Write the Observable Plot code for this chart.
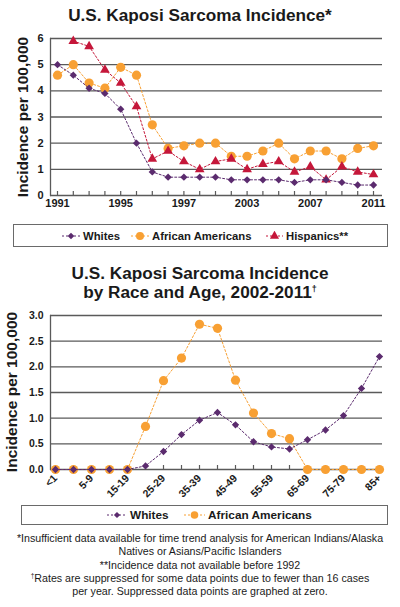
<!DOCTYPE html>
<html>
<head>
<meta charset="utf-8">
<script src="https://cdn.jsdelivr.net/npm/d3@7"></script>
<script src="https://cdn.jsdelivr.net/npm/@observablehq/plot@0.6"></script>
<style>
  html, body { margin: 0; padding: 0; background: #fff; }
  body { width: 400px; height: 607px; position: relative; overflow: hidden; font-family: "Liberation Sans", Arial, Helvetica, sans-serif; color: #1a1a1a; }
  .abs { position: absolute; }
  .title { left: 0; width: 400px; text-align: center; font-weight: bold; font-size: 17.2px; line-height: 19px; }
  .ylab { font-weight: bold; font-size: 15.5px; white-space: nowrap; transform: translate(-50%, -50%) rotate(-90deg); }
  .legend { border: 1.5px solid #6a6a6a; box-sizing: border-box; }
  .item { position: absolute; top: 50%; transform: translateY(-50%); display: flex; align-items: center; font-weight: bold; white-space: nowrap; }
  .item svg { margin-right: 3px; }
  .foot { left: 0; width: 400px; text-align: center; font-size: 11.6px; line-height: 13.3px; transform: scaleX(0.92); transform-origin: 200px 0; }
  svg text { font-family: "Liberation Sans", Arial, Helvetica, sans-serif; }
</style>
</head>
<body>
<div class="abs title" style="top:6px">U.S. Kaposi Sarcoma Incidence*</div>
<div id="chart1" class="abs" style="left:0; top:28px"></div>
<div class="abs ylab" style="left:23px; top:117px">Incidence per 100,000</div>
<div class="abs legend" style="left:13px; top:224px; width:375px; height:23px; font-size:11.3px">
  <div class="item" style="left:48px"><svg id="lg1" width="18" height="10"></svg>Whites</div>
  <div class="item" style="left:117px"><svg id="lg2" width="18" height="10"></svg>African Americans</div>
  <div class="item" style="left:252px"><svg id="lg3" width="17" height="10"></svg>Hispanics**</div>
</div>

<div class="abs title" style="top:264px">U.S. Kaposi Sarcoma Incidence<br>by Race and Age, 2002-2011<sup style="font-size:9px; vertical-align: 6px; line-height:0">†</sup></div>
<div id="chart2" class="abs" style="left:0; top:305px"></div>
<div class="abs ylab" style="left:12px; top:392px">Incidence per 100,000</div>
<div class="abs legend" style="left:21px; top:505px; width:367px; height:20px; font-size:11.8px">
  <div class="item" style="left:85px"><svg id="lg4" width="20" height="10"></svg>Whites</div>
  <div class="item" style="left:162px"><svg id="lg5" width="21" height="10"></svg>African Americans</div>
</div>

<div class="abs foot" style="top:531px">
*Insufficient data available for time trend analysis for American Indians/Alaska<br>
Natives or Asians/Pacific Islanders<br>
**Incidence data not available before 1992<br>
<sup style="font-size:7px; vertical-align: 4px; line-height:0">†</sup>Rates are suppressed for some data points due to fewer than 16 cases<br>
per year. Suppressed data points are graphed at zero.
</div>

<script>
// ---------- Data: chart 1 (by year) ----------
const years = [1991,1992,1993,1994,1995,1996,1997,1998,1999,2000,2001,2002,2003,2004,2005,2006,2007,2008,2009,2010,2011];
const whites = [5.0,4.6,4.1,3.9,3.3,2.0,0.9,0.7,0.7,0.7,0.7,0.6,0.6,0.6,0.6,0.5,0.6,0.6,0.5,0.4,0.4];
const africanAmericans = [4.6,5.0,4.3,4.1,4.9,4.6,2.7,1.8,1.9,2.0,2.0,1.5,1.5,1.7,2.0,1.4,1.7,1.7,1.4,1.8,1.9];
const hispanics = [null,5.9,5.7,4.8,4.3,3.4,1.4,1.7,1.3,1.0,1.3,1.4,1.0,1.2,1.3,0.9,1.1,0.6,1.1,0.9,0.8];
const yearTickValues = [1991,1995,1999,2003,2007,2011];
const yearTickLabels = ["1991","1995","1997","2003","2007","2011"];
const yTicks1 = [0,1,2,3,4,5,6];

// ---------- Data: chart 2 (by age) ----------
const ageGroups = ["<1","1-4","5-9","10-14","15-19","20-24","25-29","30-34","35-39","40-44","45-49","50-54","55-59","60-64","65-69","70-74","75-79","80-84","85+"];
const whitesByAge = [0,0,0,0,0,0.07,0.35,0.68,0.96,1.11,0.87,0.54,0.44,0.40,0.58,0.77,1.05,1.58,2.2];
const africanAmericansByAge = [0,0,0,0,0,0.84,1.73,2.17,2.83,2.75,1.74,1.10,0.70,0.60,0,0,0,0,0];
const ageTickLabels = ["<1","5-9","15-19","25-29","35-39","45-49","55-59","65-69","75-79","85+"];
const yTicks2 = [0,0.5,1,1.5,2,2.5,3];

// ---------- Styles ----------
const cWhite = "#5b2b6e", cAA = "#f8a033", cHisp = "#c5173a";
const grid = "#5a5a5a";

const t1 = years.map((y, i) => ({year: y, w: whites[i], a: africanAmericans[i], h: hispanics[i]}));
const t2 = ageGroups.map((g, i) => ({age: g, w: whitesByAge[i], a: africanAmericansByAge[i]}));

const lineOpts = (y, c) => ({y, stroke: c, strokeWidth: 1, strokeDasharray: "2,2"});

const chart1 = Plot.plot({
  width: 400, height: 189,
  marginLeft: 50, marginRight: 18, marginTop: 10, marginBottom: 22,
  x: {domain: [1991, 2011], insetLeft: 7, insetRight: 9, label: null},
  y: {domain: [0, 6], label: null},
  style: {fontFamily: "Liberation Sans, Arial, sans-serif", background: "transparent"},
  marks: [
    Plot.ruleY(yTicks1, {stroke: grid, strokeWidth: 1.3}),
    Plot.frame({anchor: "left", stroke: grid, strokeWidth: 1.3}),
    Plot.axisX({ticks: years, tickSize: -4, tickFormat: () => "", stroke: grid, strokeWidth: 1.2, label: null}),
    Plot.axisX({ticks: yearTickValues, tickSize: 0, tickPadding: 4, tickFormat: (d) => yearTickLabels[yearTickValues.indexOf(d)], fontSize: 11, fontWeight: "bold", fill: "#1a1a1a", label: null}),
    Plot.axisY({ticks: yTicks1, tickSize: 0, tickPadding: 7, tickFormat: d3.format("d"), fontSize: 11, fontWeight: "bold", fill: "#1a1a1a", label: null}),
    Plot.line(t1, {x: "year", ...lineOpts("a", cAA)}),
    Plot.dot(t1, {x: "year", y: "a", fill: cAA, r: 4.6, symbol: "circle"}),
    Plot.line(t1, {x: "year", ...lineOpts("h", cHisp)}),
    Plot.dot(t1.filter(d => d.h != null), {x: "year", y: "h", fill: cHisp, r: 3.6, symbol: "triangle"}),
    Plot.line(t1, {x: "year", ...lineOpts("w", cWhite)}),
    Plot.dot(t1, {x: "year", y: "w", fill: cWhite, r: 3.3, symbol: "diamond2"})
  ]
});
document.getElementById("chart1").append(chart1);

const chart2 = Plot.plot({
  width: 400, height: 200,
  marginLeft: 50, marginRight: 18, marginTop: 10, marginBottom: 36,
  x: {type: "point", domain: ageGroups, padding: 0, insetLeft: 2, insetRight: 1, label: null},
  y: {domain: [0, 3], label: null},
  style: {fontFamily: "Liberation Sans, Arial, sans-serif", background: "transparent"},
  marks: [
    Plot.ruleY(yTicks2, {stroke: grid, strokeWidth: 1.3}),
    Plot.frame({anchor: "left", stroke: grid, strokeWidth: 1.3}),
    Plot.axisX({ticks: ageGroups, tickSize: -4, tickFormat: () => "", stroke: grid, strokeWidth: 1.2, label: null}),
    Plot.axisX({ticks: ageTickLabels, tickSize: 0, tickPadding: 7, tickRotate: -45, fontSize: 10.5, fontWeight: "bold", fill: "#1a1a1a", label: null}),
    Plot.axisY({ticks: yTicks2, tickSize: 0, tickPadding: 7, tickFormat: d3.format(".1f"), fontSize: 10.5, fontWeight: "bold", fill: "#1a1a1a", label: null}),
    Plot.line(t2, {x: "age", ...lineOpts("a", cAA)}),
    Plot.dot(t2, {x: "age", y: "a", fill: cAA, r: 4.6, symbol: "circle"}),
    Plot.line(t2, {x: "age", ...lineOpts("w", cWhite)}),
    Plot.dot(t2, {x: "age", y: "w", fill: cWhite, r: 3.3, symbol: "diamond2"})
  ]
});
document.getElementById("chart2").append(chart2);

// ---------- Legend symbols ----------
function legendSymbol(id, color, symbol, r) {
  const svg = d3.select("#" + id);
  const w = +svg.attr("width");
  svg.append("line").attr("x1", 0).attr("x2", w).attr("y1", 5).attr("y2", 5)
    .attr("stroke", color).attr("stroke-width", 1).attr("stroke-dasharray", "2,2");
  svg.append("path").attr("transform", `translate(${w / 2},5)`)
    .attr("d", d3.symbol(symbol, r * r * Math.PI)()).attr("fill", color);
}
legendSymbol("lg1", cWhite, d3.symbolDiamond2, 3.0);
legendSymbol("lg2", cAA, d3.symbolCircle, 4.0);
legendSymbol("lg3", cHisp, d3.symbolTriangle, 3.4);
legendSymbol("lg4", cWhite, d3.symbolDiamond2, 2.8);
legendSymbol("lg5", cAA, d3.symbolCircle, 3.8);
</script>
</body>
</html>
